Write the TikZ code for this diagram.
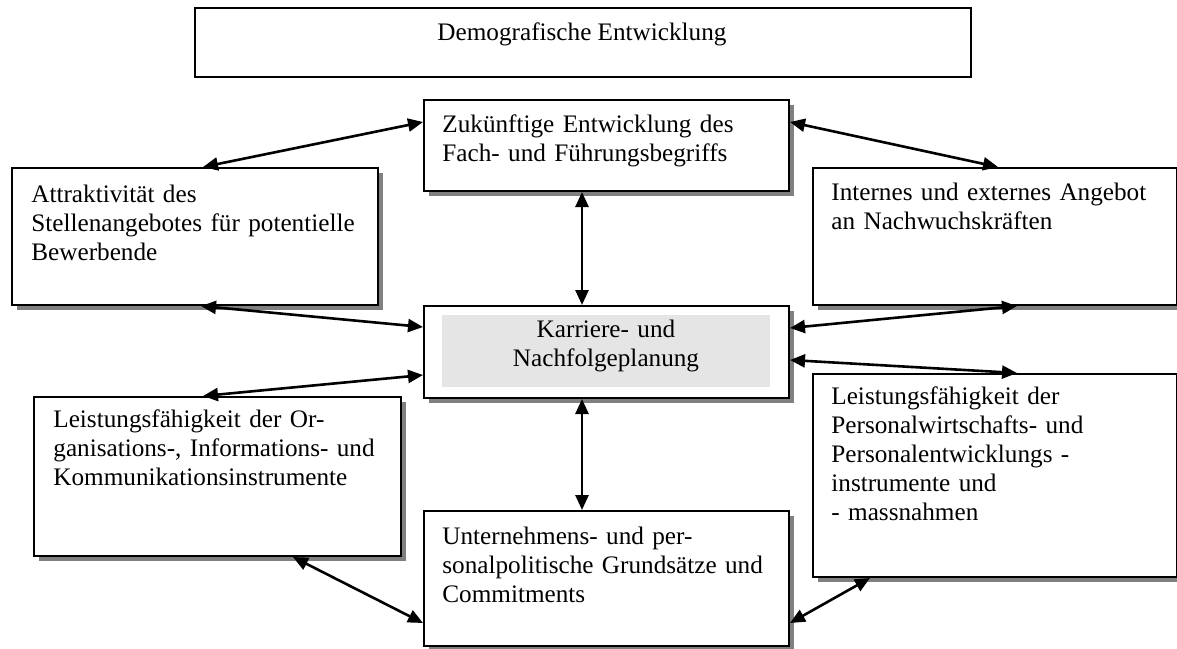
\documentclass[tikz,border=0pt]{standalone}
\usepackage{fontspec}
\setmainfont{Liberation Serif}
\usetikzlibrary{arrows.meta,shadows,calc}
\begin{document}
\begin{tikzpicture}[x=0.5pt,y=-0.5pt,
  box/.style={draw=black, line width=1pt, fill=white, anchor=north west, inner sep=0pt},
  shbox/.style={box, drop shadow={shadow xshift=2.5pt, shadow yshift=-2.5pt, fill=gray, opacity=1}},
  txt/.style={anchor=base west, inner sep=0pt, align=left, text width=172pt, font=\fontsize{12.6}{14.6}\selectfont},
  ctxt/.style={anchor=base, inner sep=0pt, align=center, text width=160pt, font=\fontsize{12.6}{14.6}\selectfont},
  link/.style={line width=1.3pt, {Triangle[length=7.5pt,width=6.5pt]}-{Triangle[length=7.5pt,width=6.5pt]}}
]
\useasboundingbox (0,0) rectangle (1177,648);

% boxes
\node[box, minimum width=388pt, minimum height=34.5pt] (demo) at (194,7) {};
\node[shbox, minimum width=182.5pt, minimum height=45.5pt] (zuk) at (423,99) {};
\node[shbox, minimum width=183pt, minimum height=68.5pt] (att) at (11,167) {};
\node[shbox, minimum width=182pt, minimum height=68.5pt] (int) at (812,167) {};
\node[shbox, minimum width=182.5pt, minimum height=46pt] (kar) at (423,305) {};
\node[anchor=north west, inner sep=0pt, fill=black!10, minimum width=164pt, minimum height=36pt] (karbg) at (442,315) {};
\node[shbox, minimum width=183.5pt, minimum height=79.5pt] (lor) at (33,396) {};
\node[shbox, minimum width=182pt, minimum height=101.5pt] (lpr) at (812,373) {};
\node[shbox, minimum width=182.5pt, minimum height=67.5pt] (unt) at (423,510) {};

% texts
\node[anchor=base, inner sep=0pt, font=\fontsize{12.6}{14.6}\selectfont] (demot) at (582,40) {Demografische Entwicklung};
\node[txt] (zukt) at ($(zuk.north west)+(19,33)$) {Zukünftige Entwicklung des\\Fach- und Führungsbegriffs};
\node[txt] (attt) at ($(att.north west)+(20,35)$) {Attraktivität des\\Stellenangebotes für potentielle\\Bewerbende};
\node[txt] (intt) at ($(int.north west)+(19,33)$) {Internes und externes Angebot\\an Nachwuchskräften};
\node[ctxt] (kart) at ($(karbg.north west)+(164,22)$) {Karriere- und\\Nachfolgeplanung};
\node[txt] (lort) at ($(lor.north west)+(20,31)$) {Leistungsfähigkeit der Or-\\ganisations-, Informations- und\\Kommunikationsinstrumente};
\node[txt] (lprt) at ($(lpr.north west)+(19,31)$) {Leistungsfähigkeit der\\Personalwirtschafts- und\\Personalentwicklungs -\\instrumente und\\- massnahmen};
\node[txt] (untt) at ($(unt.north west)+(19,34)$) {Unternehmens- und per-\\sonalpolitische Grundsätze und\\Commitments};

% connectors
\draw[link] ($(zuk.north west)+(0,23)$) -- ($(att.north west)+(192,0)$);
\draw[link] ($(zuk.north east)+(0,23)$) -- ($(int.north west)+(186,0)$);
\draw[link] ($(zuk.south west)+(159,0)$) -- ($(kar.north west)+(159,0)$);
\draw[link] ($(att.south west)+(190,0)$) -- ($(kar.north west)+(0,22)$);
\draw[link] ($(lor.north west)+(170,0)$) -- ($(kar.north west)+(0,70)$);
\draw[link] ($(kar.north east)+(0,23)$) -- ($(int.south west)+(205,0)$);
\draw[link] ($(kar.north east)+(0,55)$) -- ($(lpr.north west)+(205,0)$);
\draw[link] ($(kar.south west)+(159,0)$) -- ($(unt.north west)+(159,0)$);
\draw[link] ($(lor.south west)+(260,0)$) -- ($(unt.north west)+(0,113)$);
\draw[link] ($(lpr.south west)+(58,0)$) -- ($(unt.north east)+(0,113)$);
\end{tikzpicture}
\end{document}
